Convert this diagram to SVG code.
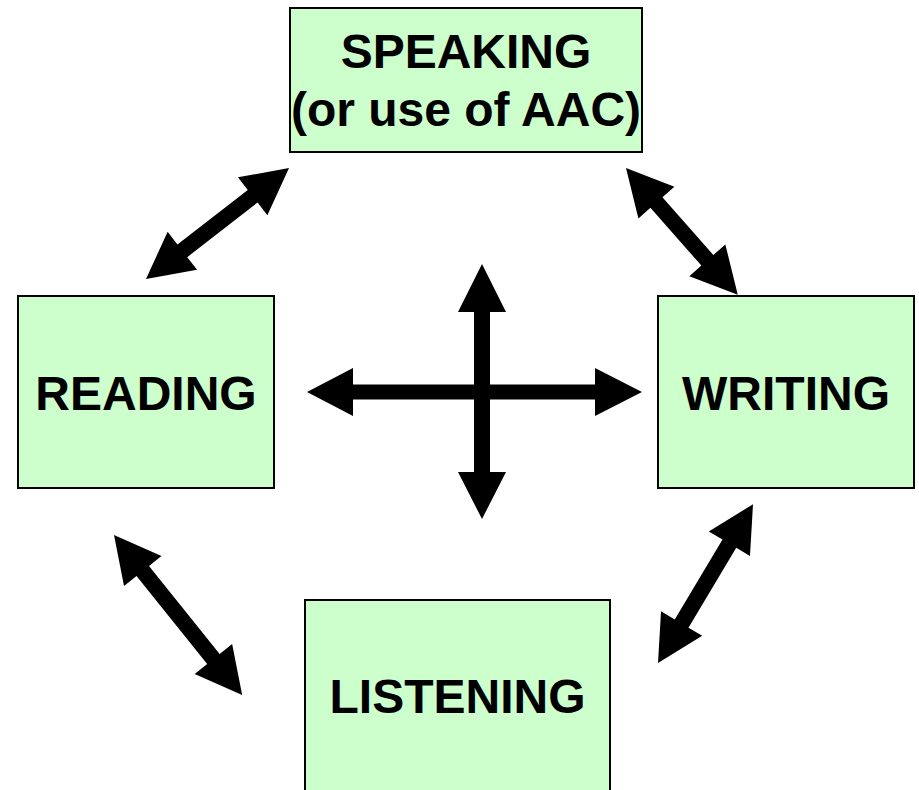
<svg xmlns="http://www.w3.org/2000/svg" width="919" height="790" viewBox="0 0 919 790">
  <style>
    .box { fill: #CCFFCC; stroke: #000; stroke-width: 2; }
    .label { font-family: "Liberation Sans", Arial, sans-serif; font-weight: bold; font-size: 48px; fill: #000; text-anchor: middle; }
    .arrow { fill: #000; }
  </style>

  <g id="speaking">
    <rect class="box" x="290" y="8" width="352" height="144"/>
    <text class="label" x="466" y="68">SPEAKING</text>
    <text class="label" x="466" y="126">(or use of AAC)</text>
  </g>
  <g id="reading">
    <rect class="box" x="18" y="296" width="256" height="192"/>
    <text class="label" x="146" y="410">READING</text>
  </g>
  <g id="writing">
    <rect class="box" x="658" y="296" width="256" height="192"/>
    <text class="label" x="786" y="410">WRITING</text>
  </g>
  <g id="listening">
    <rect class="box" x="305" y="600" width="305" height="200"/>
    <text class="label" x="457.5" y="713">LISTENING</text>
  </g>

  <!-- double-headed block arrows, drawn along +x and rotated into place -->
  <g id="connectors" class="arrow">
    <!-- reading <-> speaking -->
    <polygon transform="translate(146,279) rotate(-37.8)" points="0,0 46,-24 46,-8 135,-8 135,-24 181,0 135,24 135,8 46,8 46,24"/>
    <!-- speaking <-> writing -->
    <polygon transform="translate(626,168) rotate(48.6)" points="0,0 46,-24 46,-8 123,-8 123,-24 169,0 123,24 123,8 46,8 46,24"/>
    <!-- reading <-> listening -->
    <polygon transform="translate(114,535) rotate(51.3)" points="0,0 46,-24 46,-8 159,-8 159,-24 205,0 159,24 159,8 46,8 46,24"/>
    <!-- listening <-> writing -->
    <polygon transform="translate(658,663) rotate(-59.1)" points="0,0 46,-24 46,-8 139,-8 139,-24 185,0 139,24 139,8 46,8 46,24"/>
    <!-- central cross: horizontal -->
    <polygon points="307,392 353,368 353,384.5 595,384.5 595,368 642,392 595,416 595,399.5 353,399.5 353,416"/>
    <!-- central cross: vertical -->
    <polygon points="482,264 506,312 490,312 490,472 506,472 482,519 458,472 474,472 474,312 458,312"/>
  </g>
</svg>
